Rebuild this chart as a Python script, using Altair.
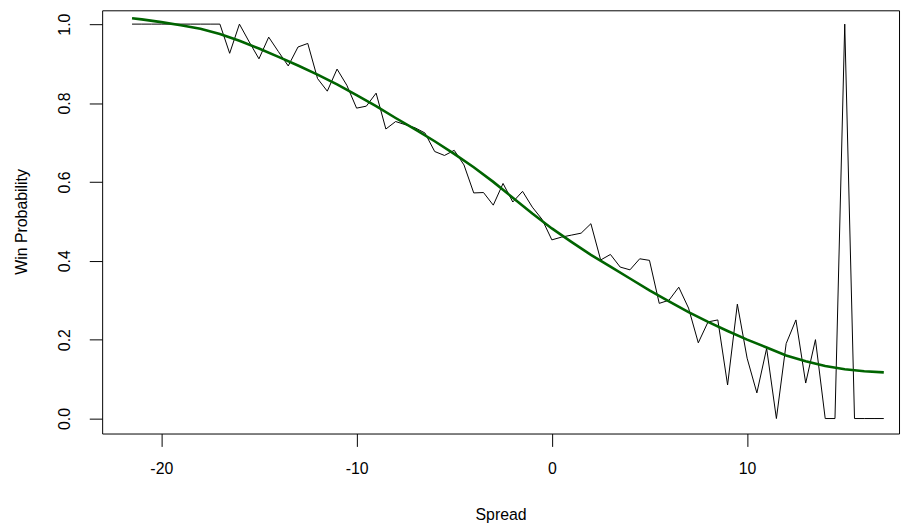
import altair as alt
import pandas as pd

# Raw win probability by spread (step 0.5)
spread = [-21.5, -21.0, -20.5, -20.0, -19.5, -19.0, -18.5, -18.0, -17.5, -17.0,
          -16.5, -16.0, -15.5, -15.0, -14.5, -14.0, -13.5, -13.0, -12.5, -12.0,
          -11.5, -11.0, -10.5, -10.0, -9.5, -9.0, -8.5, -8.0, -7.5, -7.0,
          -6.5, -6.0, -5.5, -5.0, -4.5, -4.0, -3.5, -3.0, -2.5, -2.0,
          -1.5, -1.0, -0.5, 0.0, 0.5, 1.0, 1.5, 2.0, 2.5, 3.0,
          3.5, 4.0, 4.5, 5.0, 5.5, 6.0, 6.5, 7.0, 7.5, 8.0,
          8.5, 9.0, 9.5, 10.0, 10.5, 11.0, 11.5, 12.0, 12.5, 13.0,
          13.5, 14.0, 14.5, 15.0, 15.5, 16.0, 16.5, 17.0]
win_prob = [1.0, 1.0, 1.0, 1.0, 1.0, 1.0, 1.0, 1.0, 1.0, 1.0,
            0.926, 1.0, 0.955, 0.912, 0.967, 0.93, 0.894, 0.942, 0.951, 0.862,
            0.83, 0.886, 0.845, 0.787, 0.792, 0.825, 0.734, 0.753, 0.745, 0.737,
            0.724, 0.677, 0.667, 0.68, 0.643, 0.572, 0.573, 0.541, 0.596, 0.549,
            0.576, 0.536, 0.505, 0.453, 0.46, 0.465, 0.47, 0.494, 0.402, 0.416,
            0.384, 0.377, 0.405, 0.401, 0.292, 0.3, 0.333, 0.28, 0.192, 0.245,
            0.25, 0.085, 0.29, 0.153, 0.065, 0.178, 0.0, 0.19, 0.25, 0.09,
            0.2, 0.0, 0.0, 1.0, 0.0, 0.0, 0.0, 0.0]

# Smoothed fit
smooth_spread = [-21.5, -21, -20, -19, -18, -17, -16, -15, -14, -13, -12, -11, -10,
                 -9, -8, -7, -6, -5, -4, -3, -2, -1, 0, 1, 2, 3, 4, 5, 6, 7, 8,
                 9, 10, 11, 12, 13, 14, 15, 16, 17]
smooth_prob = [1.015, 1.012, 1.005, 0.997, 0.988, 0.975, 0.958, 0.938, 0.917, 0.895,
               0.872, 0.847, 0.82, 0.792, 0.762, 0.733, 0.703, 0.671, 0.637, 0.6,
               0.56, 0.52, 0.482, 0.448, 0.415, 0.385, 0.355, 0.325, 0.297, 0.27,
               0.245, 0.222, 0.2, 0.18, 0.16, 0.145, 0.133, 0.125, 0.12, 0.117]

x_ticks = [-20, -10, 0, 10]
y_ticks = [0.0, 0.2, 0.4, 0.6, 0.8, 1.0]

raw = pd.DataFrame({"Spread": spread, "WinProb": win_prob})
smooth = pd.DataFrame({"Spread": smooth_spread, "WinProb": smooth_prob})

FONT = "Liberation Sans"
FS = 16

x_enc = alt.X(
    "Spread:Q",
    scale=alt.Scale(domain=[-23.03, 17.78], nice=False, zero=False),
    axis=alt.Axis(
        values=x_ticks, title="Spread", grid=False, domain=False,
        tickSize=13, tickColor="black", tickWidth=1,
        labelExpr="'' + datum.value",
        labelFont=FONT, labelFontSize=FS, labelColor="black",
        labelBaseline="middle", labelPadding=22, labelFlush=False,
        titleFont=FONT, titleFontSize=FS, titleFontWeight="normal",
        titleColor="black", titleBaseline="middle", titleX=402, titleY=82,
    ),
)
y_enc = alt.Y(
    "WinProb:Q",
    scale=alt.Scale(domain=[-0.038, 1.035], nice=False, zero=False),
    axis=alt.Axis(
        values=y_ticks, format=".1f", title="Win Probability", grid=False,
        domain=False, tickSize=13, tickColor="black", tickWidth=1,
        labelFont=FONT, labelFontSize=FS, labelColor="black",
        labelAngle=-90, labelAlign="center", labelBaseline="middle",
        labelPadding=25, labelFlush=False,
        titleFont=FONT, titleFontSize=FS, titleFontWeight="normal",
        titleColor="black", titleBaseline="middle", titleAngle=270,
        titleX=-81, titleY=213,
    ),
)

raw_line = alt.Chart(raw).mark_line(color="black", strokeWidth=1).encode(x=x_enc, y=y_enc)
smooth_line = alt.Chart(smooth).mark_line(color="#006400", strokeWidth=2.6).encode(x=x_enc, y=y_enc)

chart = (
    alt.layer(raw_line, smooth_line)
    .properties(
        width=804, height=427,
        autosize=alt.AutoSizeParams(type="none"),
        padding={"left": 95, "top": 0, "right": 3, "bottom": 94},
        background="white",
    )
    .configure_view(stroke="black", strokeWidth=1)
)

chart.save("out.html", embed_options={"renderer": "svg", "actions": False})
